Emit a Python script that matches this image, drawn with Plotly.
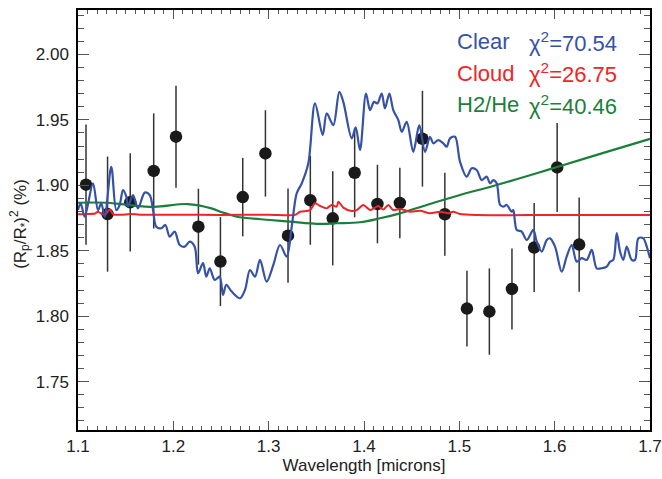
import plotly.graph_objects as go

# ---- observed transit depths ----
obs_wl = [1.1084, 1.1310, 1.1548, 1.1794, 1.2028, 1.2263, 1.2494, 1.2728, 1.2966, 1.3203,
          1.3437, 1.3672, 1.3902, 1.4141, 1.4376, 1.4613, 1.4848, 1.5080, 1.5315, 1.5552,
          1.5785, 1.6026, 1.6257]
obs_depth = [1.9005, 1.8780, 1.8870, 1.9110, 1.9372, 1.8684, 1.8417, 1.8910, 1.9244, 1.8615,
             1.8886, 1.8748, 1.9096, 1.8857, 1.8865, 1.9356, 1.8779, 1.8058, 1.8035, 1.8208,
             1.8524, 1.9137, 1.8547]
obs_err = [0.046, 0.044, 0.0375, 0.044, 0.039, 0.029, 0.034, 0.030, 0.033, 0.036,
           0.034, 0.036, 0.034, 0.030, 0.027, 0.0366, 0.0317, 0.029, 0.033, 0.031,
           0.034, 0.034, 0.036]

# ---- Clear model ----
clear_wl = [1.1000, 1.1028, 1.1070, 1.1157, 1.1210, 1.1244, 1.1280, 1.1349, 1.1402, 1.1437,
            1.1472, 1.1507, 1.1524, 1.1577, 1.1629, 1.1700, 1.1752, 1.1787, 1.1821, 1.1874,
            1.1916, 1.1962, 1.2014, 1.2067, 1.2119, 1.2172, 1.2224, 1.2259, 1.2311, 1.2346,
            1.2382, 1.2434, 1.2486, 1.2521, 1.2556, 1.2612, 1.2699, 1.2752, 1.2804, 1.2857,
            1.2909, 1.2979, 1.3049, 1.3119, 1.3189, 1.3242, 1.3294, 1.3347, 1.3416, 1.3486,
            1.3567, 1.3609, 1.3678, 1.3741, 1.3783, 1.3871, 1.3913, 1.3958, 1.4021, 1.4063,
            1.4105, 1.4140, 1.4186, 1.4220, 1.4266, 1.4307, 1.4360, 1.4396, 1.4448, 1.4517,
            1.4580, 1.4640, 1.4692, 1.4727, 1.4780, 1.4832, 1.4868, 1.4902, 1.4955, 1.5007,
            1.5077, 1.5130, 1.5182, 1.5235, 1.5287, 1.5322, 1.5356, 1.5392, 1.5427, 1.5461,
            1.5497, 1.5549, 1.5566, 1.5602, 1.5654, 1.5707, 1.5776, 1.5812, 1.5864, 1.5917,
            1.5951, 1.6004, 1.6074, 1.6126, 1.6179, 1.6231, 1.6284, 1.6336, 1.6389, 1.6441,
            1.6494, 1.6546, 1.6581, 1.6615, 1.6651, 1.6686, 1.6720, 1.6756, 1.6808, 1.6843,
            1.6878, 1.6930, 1.6966, 1.7000]
clear_val = [1.8811, 1.8863, 1.8760, 1.9015, 1.8811, 1.8863, 1.8760, 1.9142, 1.8811, 1.8850,
             1.8964, 1.8913, 1.8837, 1.8926, 1.8824, 1.8944, 1.8926, 1.8811, 1.8684, 1.8672,
             1.8697, 1.8608, 1.8646, 1.8544, 1.8531, 1.8569, 1.8531, 1.8328, 1.8405, 1.8302,
             1.8366, 1.8277, 1.8302, 1.8163, 1.8239, 1.8188, 1.8137, 1.8201, 1.8353, 1.8302,
             1.8430, 1.8264, 1.8392, 1.8544, 1.8455, 1.8684, 1.8939, 1.9015, 1.9168, 1.9626,
             1.9384, 1.9550, 1.9460, 1.9714, 1.9638, 1.9359, 1.9443, 1.9269, 1.9702, 1.9575,
             1.9638, 1.9626, 1.9702, 1.9588, 1.9702, 1.9575, 1.9498, 1.9409, 1.9485, 1.9256,
             1.9460, 1.9256, 1.9371, 1.9321, 1.9346, 1.9321, 1.9295, 1.9359, 1.9371, 1.9180,
             1.9066, 1.9130, 1.9117, 1.9040, 1.9066, 1.9015, 1.9040, 1.9015, 1.8850, 1.8837,
             1.8850, 1.8798, 1.8811, 1.8659, 1.8646, 1.8582, 1.8659, 1.8569, 1.8493, 1.8582,
             1.8595, 1.8531, 1.8340, 1.8455, 1.8544, 1.8417, 1.8443, 1.8430, 1.8506, 1.8366,
             1.8366, 1.8379, 1.8417, 1.8430, 1.8634, 1.8493, 1.8430, 1.8531, 1.8430, 1.8430,
             1.8595, 1.8595, 1.8531, 1.8443]

# ---- Cloud model ----
cloud_wl = [1.1000, 1.1100, 1.1180, 1.1210, 1.1250, 1.1285, 1.1332, 1.1370, 1.1450, 1.1550,
            1.1650, 1.2000, 1.2500, 1.3000, 1.3276, 1.3329, 1.3434, 1.3486, 1.3539, 1.3609,
            1.3661, 1.3714, 1.3731, 1.3783, 1.3871, 1.3924, 1.3993, 1.4063, 1.4116, 1.4150,
            1.4203, 1.4255, 1.4307, 1.4378, 1.4483, 1.4588, 1.4692, 1.4797, 1.4884, 1.4937,
            1.5007, 1.5182, 1.6000, 1.7000]
cloud_val = [1.8778, 1.8780, 1.8785, 1.8798, 1.8780, 1.8775, 1.8815, 1.8778, 1.8775, 1.8780,
             1.8776, 1.8775, 1.8774, 1.8775, 1.8774, 1.8798, 1.8811, 1.8863, 1.8842, 1.8824,
             1.8850, 1.8837, 1.8875, 1.8830, 1.8804, 1.8810, 1.8850, 1.8811, 1.8830, 1.8842,
             1.8815, 1.8850, 1.8811, 1.8820, 1.8798, 1.8805, 1.8786, 1.8798, 1.8786, 1.8798,
             1.8781, 1.8773, 1.8773, 1.8773]

# ---- H2/He model ----
h2he_wl = [1.1000, 1.1310, 1.1520, 1.1800, 1.2150, 1.2400, 1.2490, 1.2573, 1.2665, 1.3014,
           1.3224, 1.3539, 1.3714, 1.3958, 1.4168, 1.4378, 1.4658, 1.5007, 1.5356, 1.5846,
           1.6026, 1.6546, 1.6983, 1.7000]
h2he_val = [1.8867, 1.8867, 1.8850, 1.8835, 1.8857, 1.8824, 1.8798, 1.8781, 1.8760, 1.8735,
            1.8722, 1.8705, 1.8710, 1.8718, 1.8748, 1.8786, 1.8850, 1.8926, 1.8995, 1.9100,
            1.9140, 1.9256, 1.9351, 1.9355]

# ---- legend text ----
model_names = ["Clear", "Cloud", "H2/He"]
model_chi2 = ["70.54", "26.75", "40.46"]
model_colors = ["#3552A7", "#EE2526", "#1B7F3B"]
yticks = [1.75, 1.80, 1.85, 1.90, 1.95, 2.00]
xticks = [1.1, 1.2, 1.3, 1.4, 1.5, 1.6, 1.7]

FONT = "Liberation Sans, Arial, Helvetica, sans-serif"

fig = go.Figure()

fig.add_trace(go.Scatter(
    x=obs_wl, y=obs_depth, mode="markers",
    marker=dict(color="#1a1a1a", size=12.5, line=dict(width=0)),
    error_y=dict(type="data", array=obs_err, visible=True, color="#333333",
                 thickness=1.5, width=0),
    showlegend=False, hoverinfo="skip"))

fig.add_trace(go.Scatter(x=h2he_wl, y=h2he_val, mode="lines",
                         line=dict(color=model_colors[2], width=2.2, shape="spline", smoothing=1.0),
                         showlegend=False))
fig.add_trace(go.Scatter(x=cloud_wl, y=cloud_val, mode="lines",
                         line=dict(color=model_colors[1], width=2.0, shape="spline", smoothing=0.8),
                         showlegend=False))
fig.add_trace(go.Scatter(x=clear_wl, y=clear_val, mode="lines",
                         line=dict(color=model_colors[0], width=2.2, shape="spline", smoothing=0.9),
                         showlegend=False))

row_y = [0.924, 0.850, 0.774]
for name, chi, col, yy in zip(model_names, model_chi2, model_colors, row_y):
    fig.add_annotation(x=0.659, y=yy, xref="paper", yref="paper", xanchor="left",
                       yanchor="middle", text=name, showarrow=False,
                       font=dict(family=FONT, size=22, color=col))
    fig.add_annotation(x=0.785, y=yy, xref="paper", yref="paper", xanchor="left",
                       yanchor="middle", text="χ<sup>2</sup>=" + chi, showarrow=False,
                       font=dict(family=FONT, size=22, color=col))

fig.add_annotation(x=-0.102, y=0.49, xref="paper", yref="paper", textangle=-90,
                   xanchor="center", yanchor="middle", showarrow=False,
                   text="(R<sub>p</sub>/R<sub>*</sub>)<sup>2</sup> (%)",
                   font=dict(family=FONT, size=17, color="#222222"))

fig.update_layout(
    width=662, height=479,
    margin=dict(l=78, r=12, t=10, b=49, autoexpand=False),
    paper_bgcolor="white", plot_bgcolor="white",
    font=dict(family=FONT, size=17, color="#222222"),
    showlegend=False,
)
fig.update_xaxes(
    range=[1.1, 1.7], tickvals=xticks, ticktext=[f"{v:.1f}" for v in xticks],
    ticks="inside", ticklen=9, tickwidth=1.2, tickcolor="#555555",
    showline=True, linecolor="black", linewidth=1.5, mirror="allticks",
    showgrid=False, zeroline=False, automargin=False,
    minor=dict(ticks="inside", dtick=0.01, ticklen=4, tickwidth=1, tickcolor="#555555", showgrid=False),
    title=dict(text="Wavelength [microns]", font=dict(family=FONT, size=17, color="#222222"), standoff=2),
    tickfont=dict(family=FONT, size=17, color="#222222"),
)
fig.update_yaxes(
    range=[1.713, 2.034], tickvals=yticks, ticktext=[f"{v:.2f}" for v in yticks],
    ticks="inside", ticklen=11, tickwidth=1.2, tickcolor="#555555",
    showline=True, linecolor="black", linewidth=1.5, mirror="allticks",
    showgrid=False, zeroline=False, automargin=False,
    minor=dict(ticks="inside", dtick=0.01, tick0=1.70, ticklen=6, tickwidth=1, tickcolor="#555555", showgrid=False),
    tickfont=dict(family=FONT, size=17, color="#222222"),
    ticklabelstandoff=4,
)

fig.write_html("out.html")
